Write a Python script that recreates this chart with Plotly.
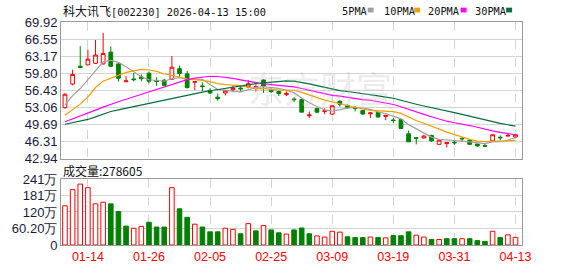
import plotly.graph_objects as go
import pandas as pd

# ---------------- data ----------------
dates = ["2026-01-09", "2026-01-12", "2026-01-13", "2026-01-14", "2026-01-15", "2026-01-16",
         "2026-01-19", "2026-01-20", "2026-01-21", "2026-01-22", "2026-01-23",
         "2026-01-26", "2026-01-27", "2026-01-28", "2026-01-29", "2026-01-30",
         "2026-02-02", "2026-02-03", "2026-02-04", "2026-02-05", "2026-02-06",
         "2026-02-09", "2026-02-10", "2026-02-11", "2026-02-12", "2026-02-13",
         "2026-02-24", "2026-02-25", "2026-02-26", "2026-02-27",
         "2026-03-02", "2026-03-03", "2026-03-04", "2026-03-05", "2026-03-06",
         "2026-03-09", "2026-03-10", "2026-03-11", "2026-03-12", "2026-03-13",
         "2026-03-16", "2026-03-17", "2026-03-18", "2026-03-19", "2026-03-20",
         "2026-03-23", "2026-03-24", "2026-03-25", "2026-03-26", "2026-03-27",
         "2026-03-30", "2026-03-31", "2026-04-01", "2026-04-02", "2026-04-03",
         "2026-04-07", "2026-04-08", "2026-04-09", "2026-04-10", "2026-04-13"]

opens = [53.03, 57.69, 61.20, 61.47, 61.77, 61.66, 63.98, 61.66, 58.15, 58.70,
         59.10, 59.83, 58.37, 58.45, 58.64, 60.71, 59.69, 58.05, 57.32, 56.45,
         55.10, 55.92, 56.56, 56.90, 57.13, 56.95, 58.50, 56.56, 56.20, 55.60,
         54.75, 54.60, 51.45, 52.85, 52.30, 51.77, 54.30, 53.47, 52.98, 52.47,
         51.85, 52.09, 51.30, 50.60, 50.71, 47.88, 47.10, 47.05, 47.56, 45.81,
         45.95, 46.20, 47.00, 46.62, 45.87, 45.55, 46.49, 47.20, 47.43, 47.24]
highs = [55.86, 60.52, 65.15, 64.49, 66.37, 67.75, 65.11, 61.85, 59.26, 59.88,
         59.60, 60.15, 59.01, 58.69, 63.22, 61.34, 60.26, 58.15, 58.00, 56.90,
         55.80, 56.40, 57.32, 57.20, 58.45, 57.60, 58.60, 56.86, 56.37, 56.25,
         55.10, 54.80, 52.28, 52.98, 52.90, 53.54, 54.49, 53.66, 53.35, 52.60,
         52.10, 52.28, 51.55, 51.02, 50.83, 48.51, 47.25, 47.70, 47.70, 46.75,
         46.20, 46.75, 47.10, 46.80, 45.90, 46.00, 47.75, 47.56, 48.07, 47.75]
lows = [52.84, 57.43, 60.96, 61.47, 61.66, 61.55, 61.01, 58.19, 58.10, 58.19,
        58.20, 57.81, 57.32, 57.32, 58.51, 59.13, 56.81, 56.49, 56.30, 55.73,
        54.40, 55.43, 56.24, 56.24, 56.86, 56.20, 55.95, 55.92, 55.30, 55.30,
        54.10, 52.15, 51.02, 51.96, 51.77, 51.66, 53.22, 52.90, 52.28, 51.66,
        51.02, 51.02, 50.60, 49.96, 48.83, 46.30, 45.80, 47.00, 46.30, 45.75,
        45.17, 45.68, 46.30, 45.68, 45.30, 45.23, 46.43, 46.62, 47.35, 47.20]
closes = [55.68, 59.58, 60.96, 62.60, 63.41, 63.73, 61.20, 58.83, 58.30, 58.55,
          58.75, 58.26, 58.20, 57.43, 61.01, 59.77, 56.99, 58.13, 57.19, 55.92,
          54.80, 56.37, 56.86, 56.75, 57.75, 57.20, 57.30, 56.19, 55.80, 55.85,
          54.60, 52.15, 51.60, 52.15, 52.40, 53.41, 53.71, 53.09, 52.85, 51.77,
          52.00, 51.20, 51.50, 50.50, 48.94, 46.30, 47.00, 47.43, 46.49, 46.62,
          46.15, 46.10, 46.90, 45.81, 45.50, 45.45, 47.70, 47.10, 47.56, 47.70]
volumes = [1430000, 2020000, 2220000, 2090000, 1500000, 1560000, 1500000, 1220000, 690000, 610000,
           680000, 830000, 655000, 655000, 2090000, 1320000, 1010000, 760000, 655000, 480000,
           480000, 610000, 570000, 410000, 780000, 515000, 710000, 550000, 445000, 400000,
           550000, 620000, 410000, 330000, 290000, 500000, 470000, 300000, 270000, 270000,
           290000, 270000, 260000, 340000, 340000, 480000, 360000, 290000, 200000, 200000,
           230000, 230000, 230000, 230000, 160000, 130000, 500000, 270000, 370000, 278605]

# moving-average values before enough in-view history exists
ma5_head = [53.6, 55.4, 56.8, 58.6]
ma10_head = [51.52, 52.6, 53.73, 55.11, 57.0, 58.26, 58.88, 59.5, 60.0]
ma20_head = [50.26, 50.8, 51.4, 51.96, 52.55, 53.15, 53.73, 54.2, 54.7, 55.2,
             55.65, 56.15, 56.65, 57.1, 57.6, 58.1, 58.55, 58.85, 59.1]
ma30_head = [49.77, 50.08, 50.4, 50.71, 51.23, 51.76, 52.28, 52.61, 52.94, 53.27,
             53.6, 53.92, 54.23, 54.55, 54.88, 55.2, 55.5, 55.8, 56.1, 56.37,
             56.63, 56.88, 57.12, 57.36, 57.6, 57.78, 57.92, 58.04, 58.13]

price_ticks = [42.94, 46.31, 49.69, 53.06, 56.43, 59.80, 63.17, 66.55, 69.92]
price_tick_text = ["42.94", "46.31", "49.69", "53.06", "56.43", "59.80", "63.17", "66.55", "69.92"]
vol_ticks = [0, 602000, 1204000, 1806000, 2408000]
vol_tick_text = ["0", "60.20万", "120万", "181万", "241万"]
tick_dates = ["2026-01-14", "2026-01-26", "2026-02-05", "2026-02-25",
              "2026-03-09", "2026-03-19", "2026-03-31", "2026-04-13"]
stock_name = "科大讯飞"
stock_info = "[002230] 2026-04-13 15:00"
ma_names = ["5PMA", "10PMA", "20PMA", "30PMA"]
ma_colors = ["#a0a0a0", "#f0a000", "#ff00ff", "#00703a"]

# ---------------- derived ----------------
cs = pd.Series(closes)


def ma(n, head):
    r = cs.rolling(n).mean().tolist()
    return list(head) + r[len(head):]


mas = [ma(5, ma5_head), ma(10, ma10_head), ma(20, ma20_head), ma(30, ma30_head)]

up_vol = [True] + [closes[i] >= closes[i - 1] for i in range(1, len(closes))]
vol_fill = ["#ffffff" if u else "#008000" for u in up_vol]
vol_line = ["#ff0000" if u else "#008000" for u in up_vol]

# ---------------- geometry ----------------
W, H = 578, 276
L, R, T, B = 56, 56, 22, 21
PW, PH = W - L - R, H - T - B


def px(x):
    return (x - L) / PW


def py(y):
    return (H - B - y) / PH


price_dom = [py(165), 1.0]
vol_dom = [0.0, py(186)]
xrange_ = [-0.52, len(dates) - 1 + 0.85]

fig = go.Figure()

fig.add_trace(go.Candlestick(
    x=dates, open=opens, high=highs, low=lows, close=closes,
    increasing=dict(line=dict(color="#ff0000", width=1), fillcolor="#ffffff"),
    decreasing=dict(line=dict(color="#008000", width=1), fillcolor="#008000"),
    whiskerwidth=0, showlegend=False, hoverinfo="skip", xaxis="x", yaxis="y"))

for name, vals, col in zip(ma_names, mas, ma_colors):
    fig.add_trace(go.Scatter(x=dates, y=vals, mode="lines", name=name,
                             line=dict(color=col, width=1.2), showlegend=False,
                             hoverinfo="skip", xaxis="x", yaxis="y"))

fig.add_trace(go.Bar(x=dates, y=volumes, width=0.6,
                     marker=dict(color=vol_fill, line=dict(color=vol_line, width=1)),
                     showlegend=False, hoverinfo="skip", xaxis="x2", yaxis="y2"))

grid = "#d4d4d4"
border = "#9a9a9a"
tickfont = dict(family="Liberation Sans, Arial, sans-serif", size=13, color="#1a1a3a")

common_x = dict(type="category", range=xrange_, tickmode="array", tickvals=tick_dates,
                showgrid=True, gridcolor=grid, griddash="dash", gridwidth=1,
                showline=True, mirror=True, linecolor=border, linewidth=1,
                zeroline=False, ticks="", fixedrange=True)

fig.update_layout(
    width=W, height=H,
    margin=dict(l=L, r=R, t=T, b=B),
    paper_bgcolor="#ffffff", plot_bgcolor="#ffffff",
    showlegend=False,
    xaxis=dict(domain=[0, 1], anchor="y", showticklabels=False,
               rangeslider=dict(visible=False), **common_x),
    xaxis2=dict(domain=[0, 1], anchor="y2", matches="x", showticklabels=True,
                ticktext=[d[5:] for d in tick_dates],
                tickfont=dict(family="Liberation Sans, Arial, sans-serif", size=12.5, color="#ff0000"),
                **common_x),
    yaxis=dict(domain=price_dom, range=[price_ticks[0], price_ticks[-1]], tickmode="array",
               tickvals=price_ticks, ticktext=price_tick_text, tickfont=tickfont,
               showgrid=True, gridcolor=grid, showline=True, mirror=True, linecolor=border,
               zeroline=False, ticks="", fixedrange=True),
    yaxis2=dict(domain=vol_dom, range=[vol_ticks[0], vol_ticks[-1]], tickmode="array",
                tickvals=vol_ticks, ticktext=vol_tick_text, tickfont=tickfont,
                showgrid=True, gridcolor=grid, showline=True, mirror=True, linecolor=border,
                zeroline=False, ticks="", fixedrange=True),
    bargap=0.3,
)

anns = []
cjk = "Noto Sans CJK SC, sans-serif"
anns.append(dict(text=stock_name + "<span style='font-family:DejaVu Sans Mono;font-size:10.3px'>"
                 + stock_info + "</span>",
                 x=px(56), y=py(10), xref="paper", yref="paper",
                 xanchor="left", yanchor="middle", showarrow=False,
                 font=dict(family=cjk, size=12, color="#111111")))
anns.append(dict(text="成交量:" + str(volumes[-1]), x=px(56), y=py(177), xref="paper", yref="paper",
                 xanchor="left", yanchor="middle", showarrow=False,
                 font=dict(family=cjk, size=12, color="#111111")))
# watermark
anns.append(dict(text="东方财富", x=px(318), y=py(90), xref="paper", yref="paper",
                 xanchor="center", yanchor="middle", showarrow=False,
                 font=dict(family=cjk, size=36, color="rgba(190,190,190,0.28)")))

leg_text_x = [338, 380, 425, 472]
leg_sq_x = [366, 413, 460, 506]
shapes = []
for name, col, tx, sx in zip(ma_names, ma_colors, leg_text_x, leg_sq_x):
    anns.append(dict(text=name, x=px(tx), y=py(10), xref="paper", yref="paper",
                     xanchor="left", yanchor="middle", showarrow=False,
                     font=dict(family="DejaVu Sans Mono, monospace", size=10.3, color="#111111")))
    shapes.append(dict(type="rect", xref="paper", yref="paper",
                       x0=px(sx), x1=px(sx + 6), y0=py(12), y1=py(7),
                       fillcolor=col, line=dict(width=0)))

fig.update_layout(annotations=anns, shapes=shapes)

fig.write_html("out.html")
